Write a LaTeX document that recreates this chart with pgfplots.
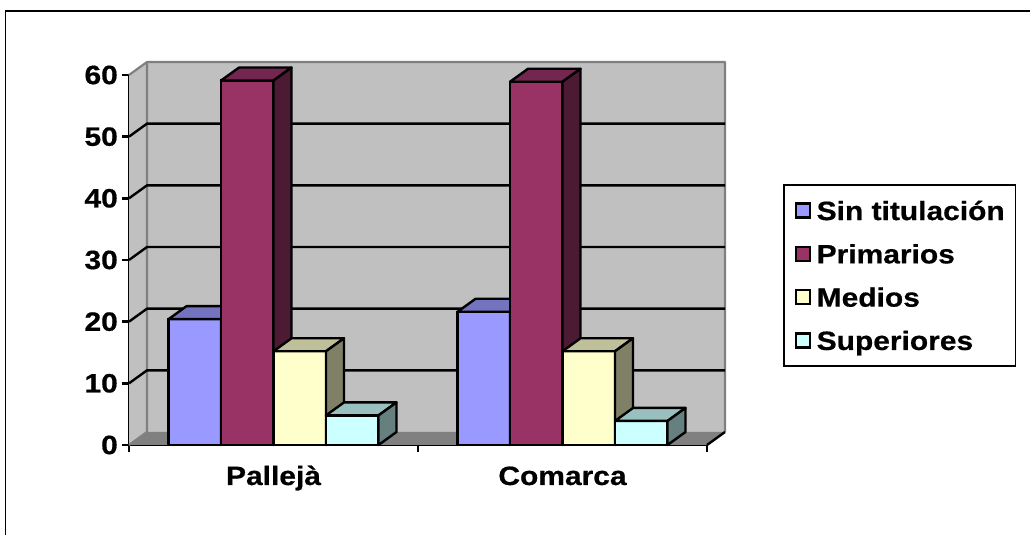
\documentclass[border=0pt]{standalone}
\usepackage{pgfplots}
\usepackage{pgfplotstable}
\pgfplotsset{compat=1.18}
\usepackage{fontspec}
\setmainfont{Liberation Sans}[FakeStretch=1.13, BoldFeatures={FakeBold=0.6}]

% wall, floor and bar colours (front / top / side)
\definecolor{wall}{HTML}{C0C0C0}
\definecolor{floorgray}{HTML}{808080}
\definecolor{edgegray}{HTML}{808080}
\definecolor{sinF}{HTML}{9999FF}\definecolor{sinT}{HTML}{7373BF}\definecolor{sinS}{HTML}{4D4D80}
\definecolor{priF}{HTML}{993366}\definecolor{priT}{HTML}{732650}\definecolor{priS}{HTML}{4D1A33}
\definecolor{medF}{HTML}{FFFFCC}\definecolor{medT}{HTML}{BFBF99}\definecolor{medS}{HTML}{808066}
\definecolor{supF}{HTML}{CCFFFF}\definecolor{supT}{HTML}{99BFBF}\definecolor{supS}{HTML}{668080}

% level of studies (%), 0 = Pallejà, 1 = Comarca
\pgfplotstableread{
cat sin pri med sup
0 20.4 59.1 15.2 4.8
1 21.6 58.9 15.2 3.9
}\educ

\def\yunit{6.1667}
\def\lw{2.4pt}
\pgfdeclareplotmark{void}{}

\pgfplotsset{
  front bar/.style n args={2}{
    ybar, bar width=52.5pt, bar shift=#1pt,
    fill=#2, draw=black, line width=\lw,
  },
  % whole 3-D box of each bar (front, top, side), drawn at the bar's data point
  box faces/.style n args={4}{
    forget plot, only marks, mark=void, scatter,
    visualization depends on={rawy \as \barval},
    scatter/@pre marker code/.code={
      \pgfmathsetmacro\h{\barval*\yunit}
      \pgfmathsetmacro\xa{#1-26.25}
      \pgfmathsetmacro\xb{#1+26.25}
      \pgfmathsetmacro\xc{#1+44.25}
      \pgfmathsetmacro\xd{#1-8.25}
      \filldraw[fill=#2, draw=black, line width=\lw]
        (\xa pt,0pt) rectangle (\xb pt,{-\h pt});
      \filldraw[fill=#3, draw=black, line width=\lw, line join=round]
        (\xa pt,0pt) -- (\xb pt,0pt) -- (\xc pt,13pt) -- (\xd pt,13pt) -- cycle;
      \filldraw[fill=#4, draw=black, line width=\lw, line join=round]
        (\xb pt,0pt) -- (\xc pt,13pt) -- (\xc pt,{13pt-\h pt}) -- (\xb pt,{-\h pt}) -- cycle;
    },
    scatter/@post marker code/.code={},
  },
}

\begin{document}
\begin{tikzpicture}
\useasboundingbox (0,0) rectangle (1030pt,535pt);
\fill[white] (0,0) rectangle (1030pt,535pt);
\draw[line width=1.5pt] (5.5pt,-10pt) -- (5.5pt,524pt) -- (1040pt,524pt);
\begin{axis}[
  at={(129pt,90pt)}, anchor=south west,
  scale only axis, x=289pt, y=6.1667pt,
  xmin=-0.5, xmax=1.5, ymin=0, ymax=60,
  clip=false,
  axis x line*=bottom, axis y line*=left,
  axis line style={line width=2.6pt, black, -},
  tick align=outside, major tick length=7pt,
  tick style={line width=2.4pt, black},
  ytick={0,10,...,60},
  xtick={-0.5,0.5,1.5}, xticklabels={},
  extra x ticks={0,1}, extra x tick labels={Pallejà,Comarca},
  extra x tick style={major tick length=0pt,
    tick label style={anchor=base, yshift=-40pt}},
  ticklabel style={font=\fontsize{26.5}{30}\selectfont\bfseries},
  yticklabel style={inner xsep=4pt},
  /pgf/number format/assume math mode=true,
  legend style={at={(1.1315,0.7043)}, anchor=north west,
    draw=black, line width=1.6pt,
    inner xsep=10.7pt, inner ysep=7.85pt, row sep=8.3pt,
    font=\fontsize{26.5}{30}\selectfont\bfseries,
    nodes={inner sep=0pt, text height=27pt, text depth=8pt},
    /tikz/every odd column/.append style={column sep=6pt}},
  legend cell align=left,
  legend image code/.code={\draw[#1, line width=2.2pt] (0.5pt,-7pt) rectangle (14.5pt,7pt);},
]
% side wall and back wall
\fill[wall] (axis cs:-0.5,0) -- (axis cs:-0.5,60) -- ([shift={(18pt,13pt)}]axis cs:-0.5,60)
  -- ([shift={(18pt,13pt)}]axis cs:-0.5,0) -- cycle;
\fill[wall] ([shift={(18pt,13pt)}]axis cs:-0.5,0) rectangle ([shift={(18pt,13pt)}]axis cs:1.5,60);
% floor
\fill[floorgray] (axis cs:-0.5,0) -- (axis cs:1.5,0) -- ([shift={(18pt,13pt)}]axis cs:1.5,0)
  -- ([shift={(18pt,13pt)}]axis cs:-0.5,0) -- cycle;
% wall edges
\draw[edgegray, line width=2.2pt, line join=round] (axis cs:-0.5,60) -- ([shift={(18pt,13pt)}]axis cs:-0.5,60)
  -- ([shift={(18pt,13pt)}]axis cs:1.5,60) -- ([shift={(18pt,13pt)}]axis cs:1.5,0);
\draw[edgegray, line width=2.2pt] ([shift={(18pt,13pt)}]axis cs:-0.5,60) -- ([shift={(18pt,13pt)}]axis cs:-0.5,0)
  -- (axis cs:-0.5,0);
% gridlines
\pgfplotsinvokeforeach{10,20,30,40,50}{
  \draw[black, line width=2.4pt] (axis cs:-0.5,#1) -- ([shift={(18pt,13pt)}]axis cs:-0.5,#1)
    -- ([shift={(18pt,13pt)}]axis cs:1.5,#1);
}
\draw[black, line width=2.4pt] (axis cs:1.5,0) -- ([shift={(18pt,13pt)}]axis cs:1.5,0);

\addplot[front bar={-78.75}{sinF}] table[x=cat, y=sin] {\educ};
\addlegendentry{Sin titulación}
\addplot[box faces={-78.75}{sinF}{sinT}{sinS}] table[x=cat, y=sin] {\educ};

\addplot[front bar={-26.25}{priF}] table[x=cat, y=pri] {\educ};
\addlegendentry{Primarios}
\addplot[box faces={-26.25}{priF}{priT}{priS}] table[x=cat, y=pri] {\educ};

\addplot[front bar={26.25}{medF}] table[x=cat, y=med] {\educ};
\addlegendentry{Medios}
\addplot[box faces={26.25}{medF}{medT}{medS}] table[x=cat, y=med] {\educ};

\addplot[front bar={78.75}{supF}] table[x=cat, y=sup] {\educ};
\addlegendentry{Superiores}
\addplot[box faces={78.75}{supF}{supT}{supS}] table[x=cat, y=sup] {\educ};
\end{axis}
\end{tikzpicture}
\end{document}
